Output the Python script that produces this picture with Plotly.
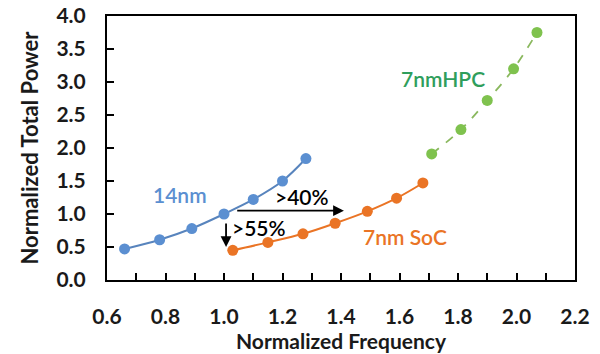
import plotly.graph_objects as go

# 14nm data
x14 = [0.66, 0.78, 0.89, 1.00, 1.10, 1.20, 1.28]
y14 = [0.47, 0.61, 0.78, 1.00, 1.22, 1.50, 1.84]
# 7nm SoC
xsoc = [1.03, 1.15, 1.27, 1.38, 1.49, 1.59, 1.68]
ysoc = [0.45, 0.57, 0.70, 0.86, 1.04, 1.24, 1.47]
# 7nm HPC
xhpc = [1.71, 1.81, 1.90, 1.99, 2.07]
yhpc = [1.91, 2.28, 2.72, 3.20, 3.75]

xticks = [0.6, 0.8, 1.0, 1.2, 1.4, 1.6, 1.8, 2.0, 2.2]
yticks = [0.0, 0.5, 1.0, 1.5, 2.0, 2.5, 3.0, 3.5, 4.0]

BLUE = "#5b8fd1"
ORANGE = "#ea7425"
GREEN = "#7fc24e"
GREEN_TXT = "#2f9e5c"
FONT = "Lato"

fig = go.Figure()
fig.add_trace(go.Scatter(x=x14, y=y14, mode="lines+markers", line=dict(color="#5884bd", width=2, shape="spline"),
                         marker=dict(color=BLUE, size=11), showlegend=False))
fig.add_trace(go.Scatter(x=xsoc, y=ysoc, mode="lines+markers", line=dict(color=ORANGE, width=2, shape="spline"),
                         marker=dict(color=ORANGE, size=11), showlegend=False))
fig.add_trace(go.Scatter(x=xhpc, y=yhpc, mode="lines+markers", line=dict(color="#8ab85e", width=1.8, dash="dash", shape="spline"),
                         marker=dict(color=GREEN, size=11), showlegend=False))

annos = [
    dict(x=0.85, y=1.30, text="14nm", font=dict(color=BLUE, size=21, family=FONT, weight=600)),
    dict(x=1.75, y=3.06, text="7nmHPC", font=dict(color=GREEN_TXT, size=21, family=FONT, weight=600)),
    dict(x=1.62, y=0.655, text="7nm SoC", font=dict(color=ORANGE, size=21, family=FONT, weight=600)),
    dict(x=1.265, y=1.27, text="&gt;40%", font=dict(color="black", size=21, family=FONT, weight=600)),
    dict(x=1.12, y=0.80, text="&gt;55%", font=dict(color="black", size=21, family=FONT, weight=600)),
]
for a in annos:
    fig.add_annotation(showarrow=False, xref="x", yref="y", **a)

# arrows
fig.add_annotation(x=1.41, y=1.05, ax=1.04, ay=1.05, xref="x", yref="y", axref="x", ayref="y",
                   showarrow=True, arrowhead=2, arrowsize=1.2, arrowwidth=1.8, arrowcolor="black", text="")
fig.add_annotation(x=1.007, y=0.50, ax=1.007, ay=0.88, xref="x", yref="y", axref="x", ayref="y",
                   showarrow=True, arrowhead=2, arrowsize=1.2, arrowwidth=1.8, arrowcolor="black", text="")

fig.update_layout(
    width=600, height=354,
    margin=dict(l=107, r=25, t=16, b=74),
    plot_bgcolor="white", paper_bgcolor="white",
    font=dict(family=FONT, color="#1a1a1a"),
)
fig.update_xaxes(range=[0.6, 2.2], tickvals=xticks, ticktext=[f"{v:.1f}" for v in xticks], automargin=False,
                 ticks="inside", ticklen=7, tickwidth=2, tickcolor="black",
                 minor=dict(dtick=0.1, tick0=0.6, ticks="inside", ticklen=7, tickwidth=2, tickcolor="black"),
                 showline=True, linecolor="black", linewidth=2, mirror=True, showgrid=False, zeroline=False,
                 tickfont=dict(size=21, family=FONT, weight="bold"), ticklabelstandoff=17,
                 title=dict(text="<b>Normalized Frequency</b>", font=dict(size=21, family=FONT), standoff=3))
fig.update_yaxes(range=[0, 4.0], tickvals=yticks, ticktext=[f"{v:.1f}" for v in yticks], automargin=False,
                 ticks="inside", ticklen=7, tickwidth=2, tickcolor="black",
                 showline=True, linecolor="black", linewidth=2, mirror=True, showgrid=False, zeroline=False,
                 tickfont=dict(size=21, family=FONT, weight="bold"), ticklabelstandoff=15,
                 title=dict(text="<b>Normalized Total Power</b>", font=dict(size=22, family=FONT), standoff=12))

fig.write_html("out.html")
